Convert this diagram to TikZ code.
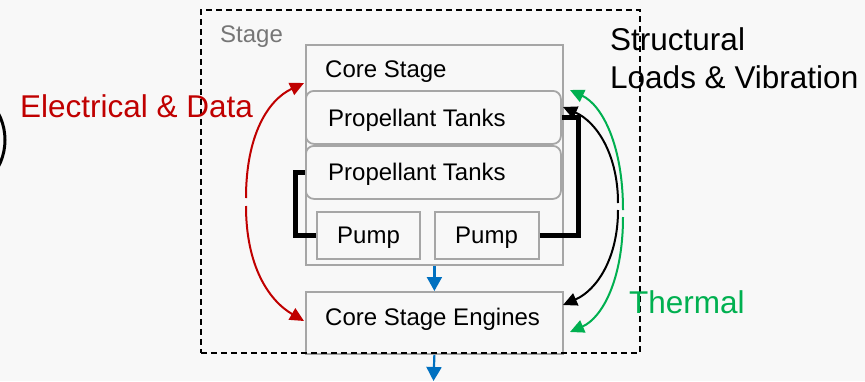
\documentclass[tikz,border=0pt]{standalone}
\usepackage{fontspec}
\setmainfont{Liberation Sans}
\usetikzlibrary{arrows.meta}
\definecolor{bg}{HTML}{F8F8F8}
\definecolor{boxgray}{HTML}{A6A6A6}
\definecolor{labelgray}{HTML}{767676}
\definecolor{dred}{HTML}{C00000}
\definecolor{dgreen}{HTML}{00B050}
\definecolor{dblue}{HTML}{0070C0}
\begin{document}
\begin{tikzpicture}[x=1pt,y=-1pt,
  box/.style={draw=boxgray, line width=1.8pt, inner sep=0pt, anchor=north west, fill=bg},
  txt/.style={anchor=base west, inner sep=0pt, font=\fontsize{24}{28}\selectfont},
  bigtxt/.style={anchor=base west, inner sep=0pt, font=\fontsize{31.5}{37}\selectfont},
  pipe/.style={line width=5pt, black},
  flow/.style={line width=2.2pt, dblue, -{Triangle[length=14pt,width=15pt]}},
  loop/.style={line width=2pt, -{Triangle[length=14pt,width=13pt]}}
]
\path[use as bounding box, fill=bg] (0,0) rectangle (865,381);
\clip (0,0) rectangle (865,381);

% partial shape at left edge
\draw[line width=3pt] (-52,140) circle (57);

\node[txt, text=labelgray] (stagelbl) at (220,42) {Stage};

% core stage
\node[box, minimum width=257pt, minimum height=220pt] (core) at (305,44) {};
\node[txt] (corelbl) at (325,77) {Core Stage};
\node[box, rounded corners=8pt, minimum width=255pt, minimum height=53pt] (tanks1) at (305,90) {};
\node[txt] (tanks1lbl) at (328,126) {Propellant Tanks};
\node[box, rounded corners=8pt, minimum width=255pt, minimum height=53pt] (tanks2) at (305,145) {};
\node[txt] (tanks2lbl) at (328,180) {Propellant Tanks};
\node[box, minimum width=103pt, minimum height=47pt] (pump1) at (316,211) {};
\node[txt] (pump1lbl) at (337,243) {Pump};
\node[box, minimum width=104pt, minimum height=47pt] (pump2) at (434,211) {};
\node[txt] (pump2lbl) at (455,243) {Pump};

% engines
\node[box, minimum width=257pt, minimum height=62pt] (engines) at (305,291) {};
\node[txt] (engineslbl) at (325,325) {Core Stage Engines};

% stage boundary
\node[draw=black, dashed, dash pattern=on 6pt off 4pt, line width=1.5pt, inner sep=0pt,
      anchor=north west, minimum width=439pt, minimum height=343pt] (stage) at (200,9) {};

% propellant lines
\draw[pipe] (pump1.west) -- ++(-21,0) |- (tanks2.west);
\draw[pipe] (pump2.east) -- ++(39,0) |- (tanks1.east);

% flow arrows
\coordinate (exit) at (433.5,381);
\draw[flow] (core.south) -- (engines.north);
\draw[flow] (engines.south) -- (exit);

% electrical & data
\coordinate (rU) at (246,198);
\coordinate (rUt) at (304,83);
\coordinate (rL) at (246,206);
\coordinate (rLt) at (304,321);
\draw[loop, dred] (rU) .. controls (246,135) and (268,100) .. (rUt);
\draw[loop, dred] (rL) .. controls (246,265) and (268,300) .. (rLt);

% structural
\coordinate (kU) at (618,203);
\coordinate (kUt) at (563,107);
\coordinate (kL) at (618,210);
\coordinate (kLt) at (563,305);
\draw[loop, black] (kU) .. controls (618,155) and (597,122) .. (kUt);
\draw[loop, black] (kL) .. controls (618,258) and (597,290) .. (kLt);

% thermal
\coordinate (gU) at (623,210);
\coordinate (gUt) at (570,90);
\coordinate (gL) at (623,217);
\coordinate (gLt) at (570,332);
\draw[loop, dgreen] (gU) .. controls (623,145) and (602,105) .. (gUt);
\draw[loop, dgreen] (gL) .. controls (623,280) and (602,318) .. (gLt);

% labels
\node[bigtxt, text=dred] (elec) at (20,117) {Electrical \& Data};
\node[bigtxt] (struct1) at (610,50) {Structural};
\node[bigtxt] (struct2) at (610,88) {Loads \& Vibration};
\node[bigtxt, text=dgreen] (therm) at (629,313) {Thermal};
\end{tikzpicture}
\end{document}
